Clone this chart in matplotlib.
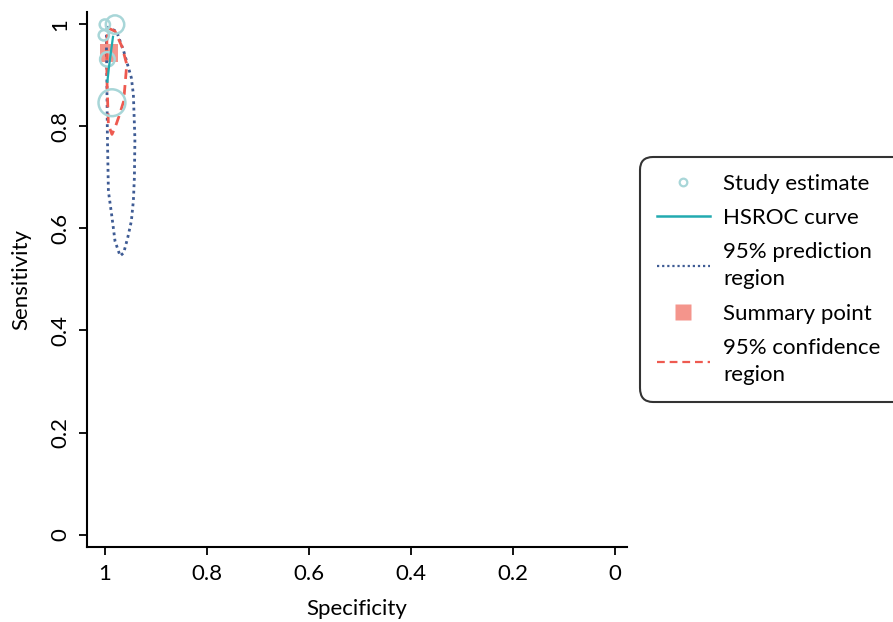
import matplotlib
matplotlib.use("Agg")
import matplotlib.pyplot as plt
from matplotlib.lines import Line2D

plt.rcParams["font.family"] = ["Lato", "DejaVu Sans"]

# Study estimates (specificity, sensitivity, relative weight)
study_spec = [1.0, 0.98, 1.002, 0.995, 0.986]
study_sens = [0.999, 0.999, 0.978, 0.931, 0.846]
study_weight = [1.0, 3.2, 1.0, 2.0, 6.8]

# Summary point
summary_spec = [0.992]
summary_sens = [0.943]

# HSROC curve
hsroc_spec = [0.984, 0.988, 0.992, 0.995]
hsroc_sens = [0.975, 0.945, 0.915, 0.887]

# 95% prediction region
pred_spec = [0.996, 0.977, 0.963, 0.948, 0.944, 0.941, 0.942, 0.944, 0.948,
             0.955, 0.963, 0.970, 0.980, 0.986, 0.993, 0.995, 0.996, 0.997, 0.996]
pred_sens = [0.994, 0.986, 0.947, 0.895, 0.862, 0.775, 0.700, 0.654, 0.614,
             0.582, 0.552, 0.546, 0.575, 0.622, 0.673, 0.784, 0.892, 0.970, 0.994]

# 95% confidence region
conf_spec = [0.993, 0.980, 0.966, 0.957, 0.960, 0.963, 0.972, 0.980, 0.986,
             0.993, 0.996, 0.996, 0.993]
conf_sens = [0.992, 0.986, 0.955, 0.921, 0.885, 0.849, 0.820, 0.797, 0.784,
             0.803, 0.895, 0.967, 0.992]

TEAL_LIGHT = "#a8d6d8"
TEAL = "#22aab0"
NAVY = "#3e5b94"
SALMON = "#f4958c"
RED = "#ee5a50"
DOT = (0, (1.0, 1.3))
DASH = (0, (3.5, 2.2))

fig = plt.figure(figsize=(8.93, 6.22), dpi=100)
ax = fig.add_axes([0.0974, 0.1206, 0.6046, 0.8604])

ax.plot(pred_spec, pred_sens, color=NAVY, linestyle=DOT, linewidth=2.0, zorder=2)
ax.plot(conf_spec, conf_sens, color=RED, linestyle=DASH, linewidth=2.0, zorder=3)
ax.scatter(summary_spec, summary_sens, marker="s", s=170, color=SALMON,
           edgecolors="none", zorder=1)
ax.scatter(study_spec, study_sens, s=[w * 55 for w in study_weight],
           facecolors="none", edgecolors=TEAL_LIGHT, linewidths=1.8, zorder=4)
ax.plot(hsroc_spec, hsroc_sens, color=TEAL, linewidth=1.6, zorder=5)

ax.set_xlim(1.035, -0.024)
ax.set_ylim(-0.024, 1.024)
ticks = [1, 0.8, 0.6, 0.4, 0.2, 0]
labels = ["1", "0.8", "0.6", "0.4", "0.2", "0"]
ax.set_xticks(ticks)
ax.set_xticklabels(labels)
ax.set_yticks(ticks)
ax.set_yticklabels(labels, rotation=90, va="center")
ax.tick_params(direction="out", length=6, width=1.3, labelsize=16, pad=6)
for s in ("top", "right"):
    ax.spines[s].set_visible(False)
for s in ("left", "bottom"):
    ax.spines[s].set_linewidth(1.5)
ax.set_xlabel("Specificity", fontsize=16, labelpad=11)
ax.set_ylabel("Sensitivity", fontsize=16, labelpad=14)

handles = [
    Line2D([], [], marker="o", linestyle="none", markersize=5.5,
           markerfacecolor="none", markeredgecolor=TEAL_LIGHT, markeredgewidth=1.6),
    Line2D([], [], color=TEAL, linewidth=1.8),
    Line2D([], [], color=NAVY, linestyle=DOT, linewidth=1.6),
    Line2D([], [], marker="s", linestyle="none", markersize=12,
           markerfacecolor=SALMON, markeredgecolor="none"),
    Line2D([], [], color=RED, linestyle=DASH, linewidth=1.6),
]
names = ["Study estimate", "HSROC curve", "95% prediction\nregion",
         "Summary point", "95% confidence\nregion"]
leg = fig.legend(handles, names, loc="upper left",
                 bbox_to_anchor=(0.7167, 0.7476, 0.32, 0), mode="expand",
                 borderaxespad=0, fontsize=16, frameon=True, fancybox=True,
                 handlelength=2.4, handletextpad=0.6, labelspacing=0.64,
                 borderpad=0.75)
for t in leg.get_texts():
    t.set_linespacing(1.45)
frame = leg.get_frame()
frame.set_edgecolor("black")
frame.set_linewidth(1.5)
frame.set_boxstyle("round", pad=0, rounding_size=0.6)

fig.savefig("out.png", dpi=100)
